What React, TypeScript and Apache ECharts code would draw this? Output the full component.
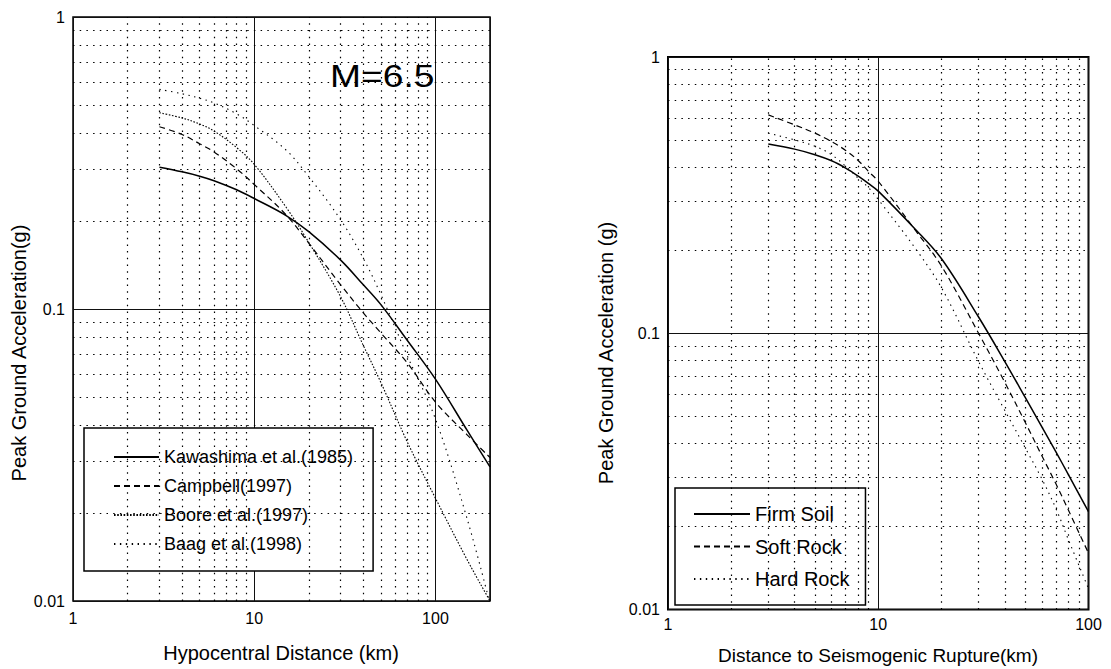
import React, { useEffect, useRef } from 'react';
import * as echarts from 'echarts';

// ---------- data ----------
const leftDist = [3, 4, 5, 6, 8, 10, 15, 20, 30, 40, 50, 70, 100, 150, 200];
const kawashima = [0.306, 0.295, 0.285, 0.275, 0.256, 0.239, 0.209, 0.184, 0.147, 0.121, 0.1035, 0.078, 0.0575, 0.0383, 0.0288];
const campbell = [0.421, 0.396, 0.368, 0.345, 0.302, 0.267, 0.21, 0.168, 0.121, 0.097, 0.0828, 0.0653, 0.048, 0.037, 0.031];
const boore = [0.47, 0.451, 0.43, 0.407, 0.357, 0.313, 0.223, 0.169, 0.11, 0.075, 0.056, 0.035, 0.0225, 0.0138, 0.01];
const baag = [0.565, 0.546, 0.527, 0.508, 0.466, 0.425, 0.35, 0.284, 0.202, 0.149, 0.112, 0.069, 0.042, 0.019, 0.0098];

const rightDist = [3, 4, 5, 6, 7, 8, 9, 10, 15, 20, 30, 40, 50, 60, 70, 80, 100];
const firmSoil = [0.484, 0.464, 0.443, 0.421, 0.396, 0.371, 0.348, 0.327, 0.238, 0.186, 0.1145, 0.079, 0.0586, 0.0458, 0.0372, 0.0309, 0.0226];
const softRock = [0.617, 0.568, 0.53, 0.494, 0.459, 0.423, 0.385, 0.355, 0.236, 0.175, 0.1, 0.0664, 0.0476, 0.036, 0.0285, 0.023, 0.016];
const hardRock = [0.53, 0.501, 0.475, 0.443, 0.402, 0.365, 0.336, 0.305, 0.203, 0.146, 0.079, 0.0525, 0.0385, 0.0297, 0.0232, 0.018, 0.0119];

const leftNames = ['Kawashima et al.(1985)', 'Campbell(1997)', 'Boore et al.(1997)', 'Baag et al.(1998)'];
const rightNames = ['Firm Soil', 'Soft Rock', 'Hard Rock'];

const xTickLabels = [1, 10, 100];
const yTickLabels = [0.01, 0.1, 1];
const minorX = [2, 3, 4, 5, 6, 7, 8, 9, 20, 30, 40, 50, 60, 70, 80, 90];
const minorY = [0.02, 0.03, 0.04, 0.05, 0.06, 0.07, 0.08, 0.09, 0.2, 0.3, 0.4, 0.5, 0.6, 0.7, 0.8, 0.9];

const FONT = "'Liberation Sans', Arial, Helvetica, sans-serif";

const fmt = (ticks: number[]) => (v: number) => {
  const t = ticks.find((k) => Math.abs(Math.log10(v) - Math.log10(k)) < 1e-6);
  return t === undefined ? '' : String(t);
};

const pairs = (xs: number[], ys: number[]) => xs.map((x, i) => [x, ys[i]]);

const minorGrid = {
  silent: true,
  symbol: ['none', 'none'],
  label: { show: false },
  emphasis: { disabled: true },
  lineStyle: { color: '#000', width: 1.2, type: [1.5, 5.2] as any },
  data: [...minorX.map((v) => ({ xAxis: v })), ...minorY.map((v) => ({ yAxis: v }))],
};

const solid = { type: 'solid', width: 1.5 };
const dashed = { type: [6, 4], width: 1.2 };
const dense = { type: [1.6, 1.6], width: 1.1 };
const sparse = { type: [1.4, 4.5], width: 1.1 };

function line(name: string, idx: number, xs: number[], ys: number[], ls: any, grid: boolean) {
  return {
    type: 'line',
    name,
    xAxisIndex: idx,
    yAxisIndex: idx,
    data: pairs(xs, ys),
    symbol: 'none',
    showSymbol: false,
    smooth: 0.35,
    silent: true,
    lineStyle: { color: '#000', ...ls },
    itemStyle: { color: '#000' },
    markLine: grid ? minorGrid : undefined,
    z: 3,
  };
}

function xAxis(idx: number, max: number) {
  return {
    type: 'log',
    logBase: 10,
    gridIndex: idx,
    min: 1,
    max,
    axisLine: { show: false },
    axisTick: { show: false },
    splitLine: { show: true, lineStyle: { color: '#111', width: 1 } },
    axisLabel: { formatter: fmt(xTickLabels), color: '#000', fontSize: 16, fontFamily: FONT, margin: idx === 0 ? 9 : 7 },
  };
}

function yAxis(idx: number) {
  return {
    type: 'log',
    logBase: 10,
    gridIndex: idx,
    min: 0.01,
    max: 1,
    axisLine: { show: false },
    axisTick: { show: false },
    splitLine: { show: true, lineStyle: { color: '#111', width: 1 } },
    axisLabel: { formatter: fmt(yTickLabels), color: '#000', fontSize: 16, fontFamily: FONT, margin: 8 },
  };
}

function txt(text: string, x: number, y: number, size: number, rot = 0, extra: any = {}) {
  return {
    type: 'text',
    x,
    y,
    rotation: rot,
    silent: true,
    ...extra,
    style: { text, fontSize: size, fontFamily: FONT, fill: '#000', align: 'center', verticalAlign: 'middle', ...(extra.style || {}) },
  };
}

const legendBase = {
  orient: 'vertical',
  itemHeight: 14,
  selectedMode: false,
  borderColor: '#000',
  borderWidth: 1.5,
  backgroundColor: '#fff',
  itemStyle: { opacity: 0, color: 'rgba(0,0,0,0)', borderWidth: 0 },
};

export default function App() {
  const ref = useRef<HTMLDivElement>(null);
  useEffect(() => {
    if (!ref.current) return;
    const chart = echarts.init(ref.current, undefined, { renderer: 'svg' });
    chart.setOption({
      animation: false,
      backgroundColor: '#fff',
      grid: [
        { left: 73, top: 17, width: 417, height: 584, show: true, borderColor: '#000', borderWidth: 1.5, backgroundColor: 'transparent' },
        { left: 668, top: 57, width: 420.5, height: 552.5, show: true, borderColor: '#000', borderWidth: 2, backgroundColor: 'transparent' },
      ],
      xAxis: [xAxis(0, 200), xAxis(1, 100)],
      yAxis: [yAxis(0), yAxis(1)],
      legend: [
        {
          ...legendBase,
          data: leftNames,
          left: 84,
          top: 428,
          padding: [20, 20, 18, 29],
          itemWidth: 45,
          itemGap: 11,
          textStyle: { color: '#000', fontSize: 18, fontFamily: FONT },
        },
        {
          ...legendBase,
          data: rightNames,
          left: 675,
          top: 488,
          padding: [16, 16, 16, 18],
          itemWidth: 56,
          itemGap: 12.5,
          textStyle: { color: '#000', fontSize: 20, fontFamily: FONT },
        },
      ],
      graphic: [
        txt('Peak Ground Acceleration(g)', 19, 353, 20, Math.PI / 2),
        txt('Hypocentral Distance (km)', 281, 653, 20),
        txt('Peak Ground Acceleration (g)', 606, 353, 20, Math.PI / 2),
        txt('Distance to Seismogenic Rupture(km)', 878, 655, 19),
        txt('M=6.5', 330, 76, 31, 0, { scaleX: 1.2, style: { align: 'left' } }),
      ],
      series: [
        line(leftNames[0], 0, leftDist, kawashima, solid, true),
        line(leftNames[1], 0, leftDist, campbell, dashed, false),
        line(leftNames[2], 0, leftDist, boore, dense, false),
        line(leftNames[3], 0, leftDist, baag, sparse, false),
        line(rightNames[0], 1, rightDist, firmSoil, solid, true),
        line(rightNames[1], 1, rightDist, softRock, dashed, false),
        line(rightNames[2], 1, rightDist, hardRock, sparse, false),
      ],
    });
    return () => chart.dispose();
  }, []);
  return <div ref={ref} style={{ position: 'absolute', left: 0, top: 0, width: 1111, height: 669, background: '#fff' }} />;
}
